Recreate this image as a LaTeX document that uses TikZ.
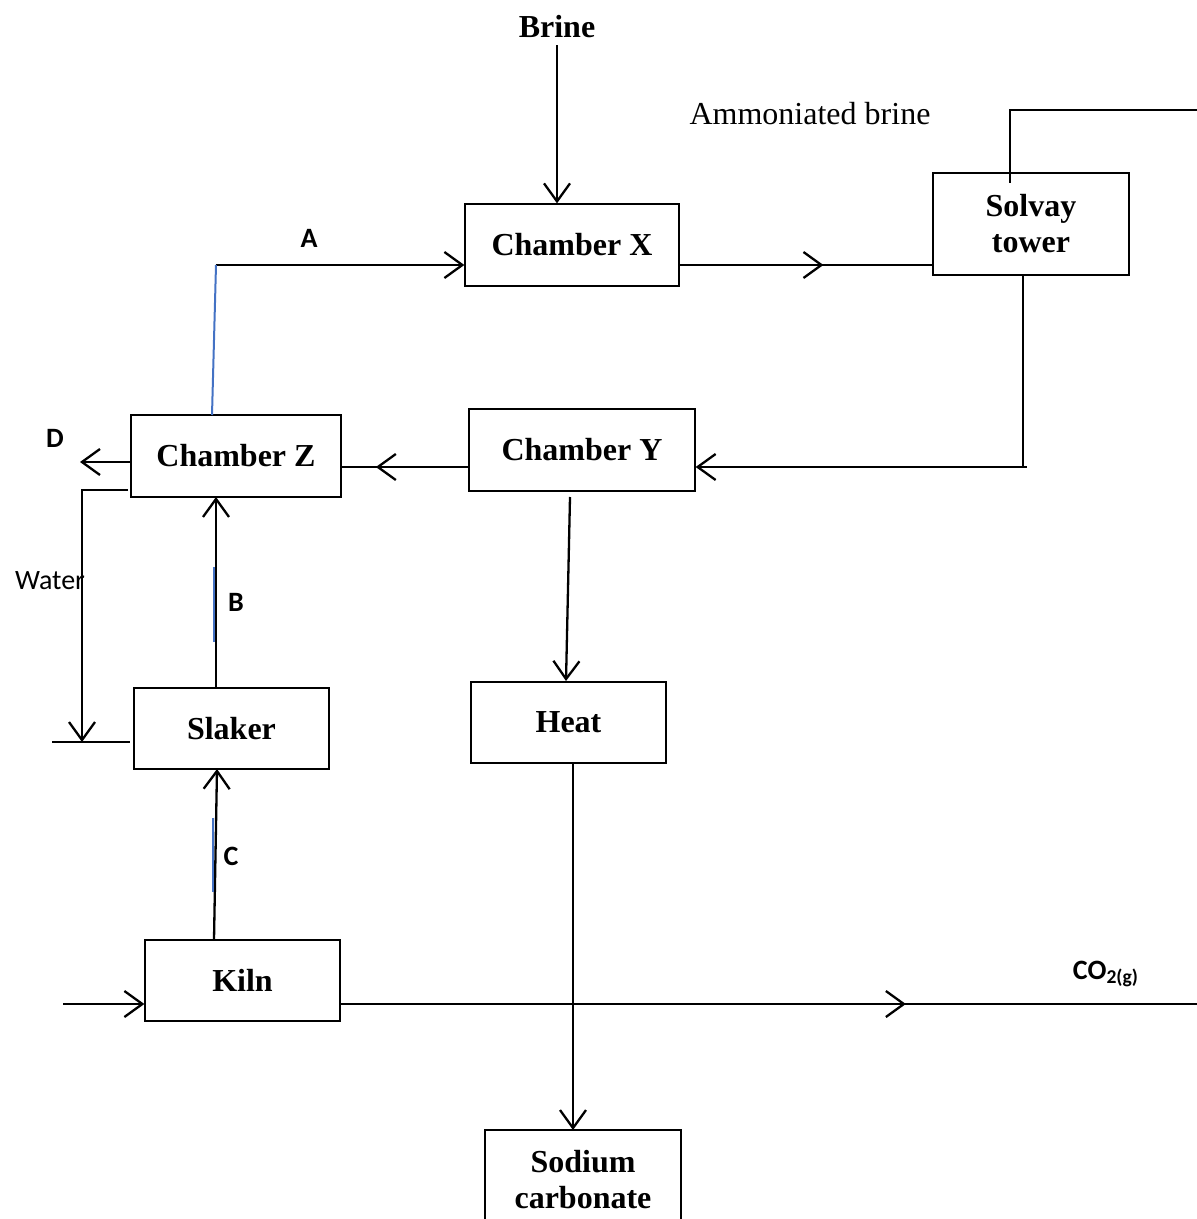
\documentclass[tikz,border=0pt]{standalone}
\usepackage{fontspec}
\setmainfont{Liberation Serif}
\newfontfamily\calibri{Carlito}
\usetikzlibrary{arrows.meta,decorations.markings}
\definecolor{wordblue}{RGB}{68,114,196}
\begin{document}
\begin{tikzpicture}[x=0.5pt,y=-0.5pt,
    chamber/.style={draw, line width=0.65pt, align=center, inner sep=0pt,
        font=\bfseries\fontsize{16}{18}\selectfont},
    flow/.style={line width=1.15pt},
    arr/.style={flow, -{Straight Barb[length=9pt,width=13pt,line width=1.15pt]}},
    midarr/.style={flow, decoration={markings,
        mark=at position #1 with {\arrow{Straight Barb[length=9pt,width=13pt,line width=1.15pt]}}},
        postaction={decorate}},
    letter/.style={font=\calibri\bfseries\fontsize{14}{16}\selectfont},
    bluemark/.style={wordblue, line width=1pt}]
    \clip (0,0) rectangle (1197,1219);

    % Boxes
    \node[chamber, minimum width=107pt, minimum height=41pt] (X) at (572,245) {Chamber X};
    \node[chamber, minimum width=98pt, minimum height=51pt] (tower) at (1031,224) {Solvay\\tower};
    \node[chamber, minimum width=113pt, minimum height=41pt] (Y) at (582,450) {Chamber Y};
    \node[chamber, minimum width=105pt, minimum height=41pt] (Z) at (236,456) {Chamber Z};
    \node[chamber, minimum width=97.5pt, minimum height=40.5pt] (slaker) at (231.5,728.5) {Slaker};
    \node[chamber, minimum width=97.5pt, minimum height=40.5pt] (heat) at (568.5,722.5) {Heat};
    \node[chamber, minimum width=97.5pt, minimum height=40.5pt] (kiln) at (242.5,980.5) {Kiln};
    \node[chamber, minimum width=98pt, minimum height=50pt] (soda) at (583,1180) {Sodium\\carbonate};

    % Texts
    \node[font=\bfseries\fontsize{16}{18}\selectfont] (brine) at (557,27) {Brine};
    \node[font=\fontsize{16}{18}\selectfont] (ammonia) at (810,114) {Ammoniated brine};
    \node[letter] (labA) at (309,238) {A};
    \node[letter] (labB) at (236,602) {B};
    \node[letter] (labC) at (231,856) {C};
    \node[letter] (labD) at (55,438) {D};
    \node[font=\calibri\fontsize{14}{16}\selectfont] (water) at (50,581) {Water};
    \node[letter] (co2) at (1106,974) {CO\textsubscript{2(g)}};

    % Junction points
    \coordinate (a0) at (216,265);
    \coordinate (xout) at (679,265);
    \coordinate (tin) at (1010,183);
    \coordinate (tout) at (1197,110);
    \coordinate (tb) at (1023,275);
    \coordinate (dend) at (80,462);
    \coordinate (kin) at (63,1004);
    \coordinate (kout) at (1197,1004);

    % Top line
    \draw[arr] (brine.south) -- (brine.south |- X.north);
    \draw[arr] (a0) -- (a0 -| X.west);
    \draw[bluemark] (a0) -- (212,415);
    \draw[midarr=0.57] (xout) -- (xout -| tower.west);
    \draw[flow] (tin) -- (1010,110) -- (tout);

    % Back from the tower
    \draw[arr] (tb) -- (1023,467) -- (Y.east |- 0,467);
    \draw[flow] (1023,467) -- (1027,467);
    \draw[midarr=0.73] (Y.west |- 0,467) -- (Z.east |- 0,467);
    \draw[arr] (Z.west |- dend) -- (dend);

    % Water loop
    \draw[arr] (128,490) -- (82,490) -- (82,742);
    \draw[flow] (52,742) -- (130,742);

    % B and C
    \draw[arr] (216,688) -- (216,497);
    \draw[bluemark] (214,567) -- (214,642);
    \draw[arr] (214,940) -- (217,769);
    \draw[bluemark] (213,818) -- (213,892);

    % Kiln line
    \draw[arr] (kin) -- (kin -| kiln.west);
    \draw[midarr=0.66] (kout -| kiln.east) -- (kout);

    % Products
    \draw[arr] (570,497) -- (566,681);
    \draw[arr] (573,763) -- (573,1130);
\end{tikzpicture}
\end{document}
